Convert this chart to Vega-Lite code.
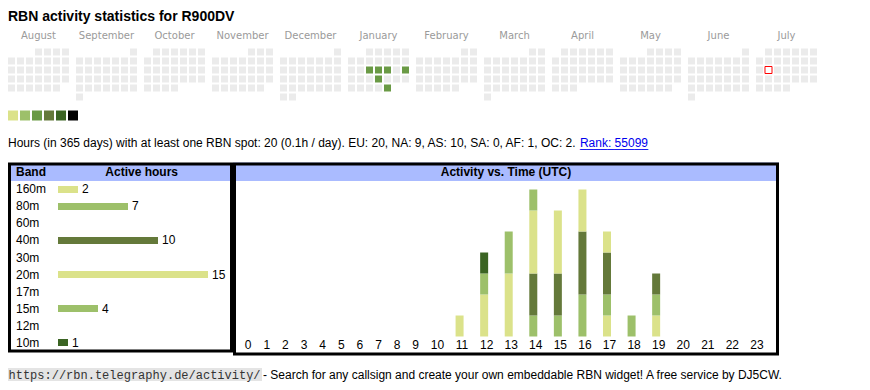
{
"$schema": "https://vega.github.io/schema/vega-lite/v6.json",
"padding": {"left": 8, "top": 9.5, "right": 0, "bottom": 0},
"config": {"view": {"stroke": null}, "font": "Liberation Sans"},
"title": {"text": "RBN activity statistics for R900DV", "anchor": "start", "fontSize": 14, "fontWeight": "bold", "font": "Liberation Sans", "color": "#000000", "offset": 6.5},
"datasets": {
"days": [
{"d":"2024-08-01","h":0},{"d":"2024-08-02","h":0},{"d":"2024-08-03","h":0},{"d":"2024-08-04","h":0},{"d":"2024-08-05","h":0},{"d":"2024-08-06","h":0},{"d":"2024-08-07","h":0},{"d":"2024-08-08","h":0},{"d":"2024-08-09","h":0},{"d":"2024-08-10","h":0},{"d":"2024-08-11","h":0},{"d":"2024-08-12","h":0},{"d":"2024-08-13","h":0},{"d":"2024-08-14","h":0},{"d":"2024-08-15","h":0},{"d":"2024-08-16","h":0},{"d":"2024-08-17","h":0},{"d":"2024-08-18","h":0},{"d":"2024-08-19","h":0},{"d":"2024-08-20","h":0},{"d":"2024-08-21","h":0},{"d":"2024-08-22","h":0},{"d":"2024-08-23","h":0},{"d":"2024-08-24","h":0},{"d":"2024-08-25","h":0},{"d":"2024-08-26","h":0},{"d":"2024-08-27","h":0},{"d":"2024-08-28","h":0},{"d":"2024-08-29","h":0},{"d":"2024-08-30","h":0},{"d":"2024-08-31","h":0},
{"d":"2024-09-01","h":0},{"d":"2024-09-02","h":0},{"d":"2024-09-03","h":0},{"d":"2024-09-04","h":0},{"d":"2024-09-05","h":0},{"d":"2024-09-06","h":0},{"d":"2024-09-07","h":0},{"d":"2024-09-08","h":0},{"d":"2024-09-09","h":0},{"d":"2024-09-10","h":0},{"d":"2024-09-11","h":0},{"d":"2024-09-12","h":0},{"d":"2024-09-13","h":0},{"d":"2024-09-14","h":0},{"d":"2024-09-15","h":0},{"d":"2024-09-16","h":0},{"d":"2024-09-17","h":0},{"d":"2024-09-18","h":0},{"d":"2024-09-19","h":0},{"d":"2024-09-20","h":0},{"d":"2024-09-21","h":0},{"d":"2024-09-22","h":0},{"d":"2024-09-23","h":0},{"d":"2024-09-24","h":0},{"d":"2024-09-25","h":0},{"d":"2024-09-26","h":0},{"d":"2024-09-27","h":0},{"d":"2024-09-28","h":0},{"d":"2024-09-29","h":0},{"d":"2024-09-30","h":0},
{"d":"2024-10-01","h":0},{"d":"2024-10-02","h":0},{"d":"2024-10-03","h":0},{"d":"2024-10-04","h":0},{"d":"2024-10-05","h":0},{"d":"2024-10-06","h":0},{"d":"2024-10-07","h":0},{"d":"2024-10-08","h":0},{"d":"2024-10-09","h":0},{"d":"2024-10-10","h":0},{"d":"2024-10-11","h":0},{"d":"2024-10-12","h":0},{"d":"2024-10-13","h":0},{"d":"2024-10-14","h":0},{"d":"2024-10-15","h":0},{"d":"2024-10-16","h":0},{"d":"2024-10-17","h":0},{"d":"2024-10-18","h":0},{"d":"2024-10-19","h":0},{"d":"2024-10-20","h":0},{"d":"2024-10-21","h":0},{"d":"2024-10-22","h":0},{"d":"2024-10-23","h":0},{"d":"2024-10-24","h":0},{"d":"2024-10-25","h":0},{"d":"2024-10-26","h":0},{"d":"2024-10-27","h":0},{"d":"2024-10-28","h":0},{"d":"2024-10-29","h":0},{"d":"2024-10-30","h":0},{"d":"2024-10-31","h":0},
{"d":"2024-11-01","h":0},{"d":"2024-11-02","h":0},{"d":"2024-11-03","h":0},{"d":"2024-11-04","h":0},{"d":"2024-11-05","h":0},{"d":"2024-11-06","h":0},{"d":"2024-11-07","h":0},{"d":"2024-11-08","h":0},{"d":"2024-11-09","h":0},{"d":"2024-11-10","h":0},{"d":"2024-11-11","h":0},{"d":"2024-11-12","h":0},{"d":"2024-11-13","h":0},{"d":"2024-11-14","h":0},{"d":"2024-11-15","h":0},{"d":"2024-11-16","h":0},{"d":"2024-11-17","h":0},{"d":"2024-11-18","h":0},{"d":"2024-11-19","h":0},{"d":"2024-11-20","h":0},{"d":"2024-11-21","h":0},{"d":"2024-11-22","h":0},{"d":"2024-11-23","h":0},{"d":"2024-11-24","h":0},{"d":"2024-11-25","h":0},{"d":"2024-11-26","h":0},{"d":"2024-11-27","h":0},{"d":"2024-11-28","h":0},{"d":"2024-11-29","h":0},{"d":"2024-11-30","h":0},
{"d":"2024-12-01","h":0},{"d":"2024-12-02","h":0},{"d":"2024-12-03","h":0},{"d":"2024-12-04","h":0},{"d":"2024-12-05","h":0},{"d":"2024-12-06","h":0},{"d":"2024-12-07","h":0},{"d":"2024-12-08","h":0},{"d":"2024-12-09","h":0},{"d":"2024-12-10","h":0},{"d":"2024-12-11","h":0},{"d":"2024-12-12","h":0},{"d":"2024-12-13","h":0},{"d":"2024-12-14","h":0},{"d":"2024-12-15","h":0},{"d":"2024-12-16","h":0},{"d":"2024-12-17","h":0},{"d":"2024-12-18","h":0},{"d":"2024-12-19","h":0},{"d":"2024-12-20","h":0},{"d":"2024-12-21","h":0},{"d":"2024-12-22","h":0},{"d":"2024-12-23","h":0},{"d":"2024-12-24","h":0},{"d":"2024-12-25","h":0},{"d":"2024-12-26","h":0},{"d":"2024-12-27","h":0},{"d":"2024-12-28","h":0},{"d":"2024-12-29","h":0},{"d":"2024-12-30","h":0},{"d":"2024-12-31","h":0},
{"d":"2025-01-01","h":0},{"d":"2025-01-02","h":0},{"d":"2025-01-03","h":0},{"d":"2025-01-04","h":0},{"d":"2025-01-05","h":0},{"d":"2025-01-06","h":0},{"d":"2025-01-07","h":0},{"d":"2025-01-08","h":0},{"d":"2025-01-09","h":0},{"d":"2025-01-10","h":0},{"d":"2025-01-11","h":0},{"d":"2025-01-12","h":0},{"d":"2025-01-13","h":0},{"d":"2025-01-14","h":0},{"d":"2025-01-15","h":4},{"d":"2025-01-16","h":4},{"d":"2025-01-17","h":3},{"d":"2025-01-18","h":0},{"d":"2025-01-19","h":3},{"d":"2025-01-20","h":0},{"d":"2025-01-21","h":0},{"d":"2025-01-22","h":0},{"d":"2025-01-23","h":3},{"d":"2025-01-24","h":0},{"d":"2025-01-25","h":0},{"d":"2025-01-26","h":0},{"d":"2025-01-27","h":0},{"d":"2025-01-28","h":0},{"d":"2025-01-29","h":0},{"d":"2025-01-30","h":0},{"d":"2025-01-31","h":3},
{"d":"2025-02-01","h":0},{"d":"2025-02-02","h":0},{"d":"2025-02-03","h":0},{"d":"2025-02-04","h":0},{"d":"2025-02-05","h":0},{"d":"2025-02-06","h":0},{"d":"2025-02-07","h":0},{"d":"2025-02-08","h":0},{"d":"2025-02-09","h":0},{"d":"2025-02-10","h":0},{"d":"2025-02-11","h":0},{"d":"2025-02-12","h":0},{"d":"2025-02-13","h":0},{"d":"2025-02-14","h":0},{"d":"2025-02-15","h":0},{"d":"2025-02-16","h":0},{"d":"2025-02-17","h":0},{"d":"2025-02-18","h":0},{"d":"2025-02-19","h":0},{"d":"2025-02-20","h":0},{"d":"2025-02-21","h":0},{"d":"2025-02-22","h":0},{"d":"2025-02-23","h":0},{"d":"2025-02-24","h":0},{"d":"2025-02-25","h":0},{"d":"2025-02-26","h":0},{"d":"2025-02-27","h":0},{"d":"2025-02-28","h":0},
{"d":"2025-03-01","h":0},{"d":"2025-03-02","h":0},{"d":"2025-03-03","h":0},{"d":"2025-03-04","h":0},{"d":"2025-03-05","h":0},{"d":"2025-03-06","h":0},{"d":"2025-03-07","h":0},{"d":"2025-03-08","h":0},{"d":"2025-03-09","h":0},{"d":"2025-03-10","h":0},{"d":"2025-03-11","h":0},{"d":"2025-03-12","h":0},{"d":"2025-03-13","h":0},{"d":"2025-03-14","h":0},{"d":"2025-03-15","h":0},{"d":"2025-03-16","h":0},{"d":"2025-03-17","h":0},{"d":"2025-03-18","h":0},{"d":"2025-03-19","h":0},{"d":"2025-03-20","h":0},{"d":"2025-03-21","h":0},{"d":"2025-03-22","h":0},{"d":"2025-03-23","h":0},{"d":"2025-03-24","h":0},{"d":"2025-03-25","h":0},{"d":"2025-03-26","h":0},{"d":"2025-03-27","h":0},{"d":"2025-03-28","h":0},{"d":"2025-03-29","h":0},{"d":"2025-03-30","h":0},{"d":"2025-03-31","h":0},
{"d":"2025-04-01","h":0},{"d":"2025-04-02","h":0},{"d":"2025-04-03","h":0},{"d":"2025-04-04","h":0},{"d":"2025-04-05","h":0},{"d":"2025-04-06","h":0},{"d":"2025-04-07","h":0},{"d":"2025-04-08","h":0},{"d":"2025-04-09","h":0},{"d":"2025-04-10","h":0},{"d":"2025-04-11","h":0},{"d":"2025-04-12","h":0},{"d":"2025-04-13","h":0},{"d":"2025-04-14","h":0},{"d":"2025-04-15","h":0},{"d":"2025-04-16","h":0},{"d":"2025-04-17","h":0},{"d":"2025-04-18","h":0},{"d":"2025-04-19","h":0},{"d":"2025-04-20","h":0},{"d":"2025-04-21","h":0},{"d":"2025-04-22","h":0},{"d":"2025-04-23","h":0},{"d":"2025-04-24","h":0},{"d":"2025-04-25","h":0},{"d":"2025-04-26","h":0},{"d":"2025-04-27","h":0},{"d":"2025-04-28","h":0},{"d":"2025-04-29","h":0},{"d":"2025-04-30","h":0},
{"d":"2025-05-01","h":0},{"d":"2025-05-02","h":0},{"d":"2025-05-03","h":0},{"d":"2025-05-04","h":0},{"d":"2025-05-05","h":0},{"d":"2025-05-06","h":0},{"d":"2025-05-07","h":0},{"d":"2025-05-08","h":0},{"d":"2025-05-09","h":0},{"d":"2025-05-10","h":0},{"d":"2025-05-11","h":0},{"d":"2025-05-12","h":0},{"d":"2025-05-13","h":0},{"d":"2025-05-14","h":0},{"d":"2025-05-15","h":0},{"d":"2025-05-16","h":0},{"d":"2025-05-17","h":0},{"d":"2025-05-18","h":0},{"d":"2025-05-19","h":0},{"d":"2025-05-20","h":0},{"d":"2025-05-21","h":0},{"d":"2025-05-22","h":0},{"d":"2025-05-23","h":0},{"d":"2025-05-24","h":0},{"d":"2025-05-25","h":0},{"d":"2025-05-26","h":0},{"d":"2025-05-27","h":0},{"d":"2025-05-28","h":0},{"d":"2025-05-29","h":0},{"d":"2025-05-30","h":0},{"d":"2025-05-31","h":0},
{"d":"2025-06-01","h":0},{"d":"2025-06-02","h":0},{"d":"2025-06-03","h":0},{"d":"2025-06-04","h":0},{"d":"2025-06-05","h":0},{"d":"2025-06-06","h":0},{"d":"2025-06-07","h":0},{"d":"2025-06-08","h":0},{"d":"2025-06-09","h":0},{"d":"2025-06-10","h":0},{"d":"2025-06-11","h":0},{"d":"2025-06-12","h":0},{"d":"2025-06-13","h":0},{"d":"2025-06-14","h":0},{"d":"2025-06-15","h":0},{"d":"2025-06-16","h":0},{"d":"2025-06-17","h":0},{"d":"2025-06-18","h":0},{"d":"2025-06-19","h":0},{"d":"2025-06-20","h":0},{"d":"2025-06-21","h":0},{"d":"2025-06-22","h":0},{"d":"2025-06-23","h":0},{"d":"2025-06-24","h":0},{"d":"2025-06-25","h":0},{"d":"2025-06-26","h":0},{"d":"2025-06-27","h":0},{"d":"2025-06-28","h":0},{"d":"2025-06-29","h":0},{"d":"2025-06-30","h":0},
{"d":"2025-07-01","h":0},{"d":"2025-07-02","h":0},{"d":"2025-07-03","h":0},{"d":"2025-07-04","h":0},{"d":"2025-07-05","h":0},{"d":"2025-07-06","h":0},{"d":"2025-07-07","h":0},{"d":"2025-07-08","h":0},{"d":"2025-07-09","h":0},{"d":"2025-07-10","h":0},{"d":"2025-07-11","h":0},{"d":"2025-07-12","h":0},{"d":"2025-07-13","h":0},{"d":"2025-07-14","h":0},{"d":"2025-07-15","h":0,"t":1},{"d":"2025-07-16","h":0},{"d":"2025-07-17","h":0},{"d":"2025-07-18","h":0},{"d":"2025-07-19","h":0},{"d":"2025-07-20","h":0},{"d":"2025-07-21","h":0},{"d":"2025-07-22","h":0},{"d":"2025-07-23","h":0},{"d":"2025-07-24","h":0},{"d":"2025-07-25","h":0},{"d":"2025-07-26","h":0},{"d":"2025-07-27","h":0},{"d":"2025-07-28","h":0},{"d":"2025-07-29","h":0},{"d":"2025-07-30","h":0},{"d":"2025-07-31","h":0}
],
"bands": [
{"band":"160m","n":2},{"band":"80m","n":7},{"band":"60m","n":0},{"band":"40m","n":10},{"band":"30m","n":0},{"band":"20m","n":15},{"band":"17m","n":0},{"band":"15m","n":4},{"band":"12m","n":0},{"band":"10m","n":1}
],
"spots": [
{"hour":11,"band":"20m","n":1},
{"hour":12,"band":"20m","n":2},{"hour":12,"band":"15m","n":1},{"hour":12,"band":"10m","n":1},
{"hour":13,"band":"20m","n":3},{"hour":13,"band":"15m","n":2},
{"hour":14,"band":"80m","n":1},{"hour":14,"band":"40m","n":2},{"hour":14,"band":"20m","n":3},{"hour":14,"band":"15m","n":1},
{"hour":15,"band":"80m","n":1},{"hour":15,"band":"40m","n":2},{"hour":15,"band":"20m","n":3},
{"hour":16,"band":"80m","n":2},{"hour":16,"band":"40m","n":3},{"hour":16,"band":"20m","n":2},
{"hour":17,"band":"160m","n":1},{"hour":17,"band":"80m","n":1},{"hour":17,"band":"40m","n":2},{"hour":17,"band":"20m","n":1},
{"hour":18,"band":"80m","n":1},
{"hour":19,"band":"160m","n":1},{"hour":19,"band":"80m","n":1},{"hour":19,"band":"40m","n":1}
],
"hours": [
{"hour":0},{"hour":1},{"hour":2},{"hour":3},{"hour":4},{"hour":5},{"hour":6},{"hour":7},{"hour":8},{"hour":9},{"hour":10},{"hour":11},{"hour":12},{"hour":13},{"hour":14},{"hour":15},{"hour":16},{"hour":17},{"hour":18},{"hour":19},{"hour":20},{"hour":21},{"hour":22},{"hour":23}
]
},
"resolve": {"scale": {"color": "independent"}},
"spacing": 10,
"vconcat": [
{
"data": {"name": "days"},
"transform": [
{"calculate": "(utcday(toDate(datum.d)) + 6) % 7", "as": "wd"},
{"calculate": "floor((utcdate(toDate(datum.d)) - 1 + (utcday(utc(utcyear(toDate(datum.d)), utcmonth(toDate(datum.d)), 1)) + 6) % 7) / 7)", "as": "wk"}
],
"facet": {"column": {"field": "d", "timeUnit": "utcyearmonth", "type": "ordinal", "title": null, "header": {"format": "%B", "labelFont": "DejaVu Sans", "labelFontSize": 10, "labelColor": "#9a9a9a", "labelPadding": 8}}},
"spacing": 7,
"spec": {
"width": 61, "height": 52,
"layer": [
{"mark": {"type": "rect"},
"encoding": {
"x": {"field": "wd", "type": "ordinal", "scale": {"domain": [0,1,2,3,4,5,6], "paddingInner": 0.2222, "paddingOuter": 0}, "axis": null},
"y": {"field": "wk", "type": "ordinal", "scale": {"domain": [0,1,2,3,4,5], "paddingInner": 0.2222, "paddingOuter": 0}, "axis": null},
"color": {"field": "h", "type": "quantitative", "scale": {"type": "threshold", "domain": [1,2,3,5,7,10], "range": ["#ebebeb","#dbe28a","#9dc06a","#6a9a45","#64793a","#3b6423","#000000"]}, "legend": null}
}},
{"transform": [{"filter": "datum.t == 1"}],
"mark": {"type": "rect", "fill": "#ffffff", "stroke": "#ff0000", "strokeWidth": 1},
"encoding": {
"x": {"field": "wd", "type": "ordinal", "axis": null},
"y": {"field": "wk", "type": "ordinal", "axis": null}
}}
]
}
},
{
"data": {"values": [{"h": 1}, {"h": 2}, {"h": 3}, {"h": 5}, {"h": 7}, {"h": 10}]},
"width": 70, "height": 10,
"mark": {"type": "rect"},
"encoding": {
"x": {"field": "h", "type": "ordinal", "scale": {"paddingInner": 0.1667, "paddingOuter": 0}, "axis": null},
"color": {"field": "h", "type": "quantitative", "scale": {"type": "threshold", "domain": [1,2,3,5,7,10], "range": ["#ebebeb","#dbe28a","#9dc06a","#6a9a45","#64793a","#3b6423","#000000"]}, "legend": null}
}
},
{
"data": {"values": [{"s": "Hours (in 365 days) with at least one RBN spot: 20 (0.1h / day). EU: 20, NA: 9, AS: 10, SA: 0, AF: 1, OC: 2.", "r": "Rank: 55099", "u": "__________"}]},
"width": 640, "height": 22,
"layer": [
{"mark": {"type": "text", "align": "left", "baseline": "alphabetic", "fontSize": 12, "dy": 5, "color": "#000000"}, "encoding": {"x": {"value": 0}, "text": {"field": "s"}}},
{"mark": {"type": "text", "align": "right", "baseline": "alphabetic", "fontSize": 12, "dy": 5, "color": "#0000ee"}, "encoding": {"x": {"value": "width"}, "text": {"field": "r"}}},
{"mark": {"type": "text", "align": "right", "baseline": "alphabetic", "fontSize": 12.24, "dy": 5, "color": "#0000ee"}, "encoding": {"x": {"value": "width"}, "text": {"field": "u"}}}
]
},
{
"spacing": 12.5,
"resolve": {"scale": {"color": "independent"}},
"vconcat": [
{
"spacing": 0,
"hconcat": [
{
"width": 225, "height": 190,
"data": {"name": "bands"},
"layer": [
{"data": {"values": [{"band": "hdr"}]},
"mark": {"type": "rect", "color": "#aabbff"},
"encoding": {"y": {"field": "band", "type": "nominal", "scale": {"domain": ["hdr","160m","80m","60m","40m","30m","20m","17m","15m","12m","10m"], "paddingInner": 0, "paddingOuter": 0.0882}, "axis": null}}},
{"data": {"values": [{"band": "hdr", "t": "Band"}]},
"mark": {"type": "text", "align": "left", "fontWeight": "bold", "fontSize": 12, "color": "#000000"},
"encoding": {"y": {"field": "band", "type": "nominal"}, "x": {"datum": -4.2, "type": "quantitative", "scale": {"domain": [-5, 17.5], "nice": false, "zero": false}, "axis": null}, "text": {"field": "t"}}},
{"data": {"values": [{"band": "hdr", "t": "Active hours"}]},
"mark": {"type": "text", "align": "center", "fontWeight": "bold", "fontSize": 12, "color": "#000000"},
"encoding": {"y": {"field": "band", "type": "nominal"}, "x": {"datum": 8.37, "type": "quantitative"}, "text": {"field": "t"}}},
{"mark": {"type": "text", "align": "left", "fontSize": 12, "color": "#000000"},
"encoding": {"y": {"field": "band", "type": "nominal"}, "x": {"datum": -4.2, "type": "quantitative"}, "text": {"field": "band"}}},
{"transform": [{"filter": "datum.n > 0"}],
"mark": {"type": "bar", "size": 7},
"encoding": {"y": {"field": "band", "type": "nominal"}, "x": {"field": "n", "type": "quantitative"},
"color": {"field": "band", "type": "nominal", "scale": {"domain": ["160m","80m","60m","40m","30m","20m","17m","15m","12m","10m"], "range": ["#dbe28a","#9dc06a","#8fbc5a","#64793a","#4a7a30","#dbe28a","#9dc06a","#9dc06a","#6a9a45","#3b6423"]}, "legend": null}}},
{"transform": [{"filter": "datum.n > 0"}],
"mark": {"type": "text", "align": "left", "dx": 4, "fontSize": 12, "color": "#000000"},
"encoding": {"y": {"field": "band", "type": "nominal"}, "x": {"field": "n", "type": "quantitative"}, "text": {"field": "n"}}},
{"data": {"values": [{"frame": "left"}]},
"mark": {"type": "rect", "fill": null, "stroke": "#000000", "strokeWidth": 6, "clip": true},
"encoding": {}}
]
},
{
"width": 546, "height": 193,
"layer": [
{"data": {"values": [{"t": "Activity vs. Time (UTC)"}]},
"mark": {"type": "rect", "color": "#aabbff"},
"encoding": {"y": {"datum": 7.405, "type": "quantitative", "scale": {"domain": [-0.9048, 8.2857], "nice": false, "zero": false}, "axis": null}, "y2": {"datum": 8.2857}}},
{"data": {"values": [{"t": "Activity vs. Time (UTC)"}]},
"mark": {"type": "text", "align": "center", "fontWeight": "bold", "fontSize": 12, "color": "#000000"},
"encoding": {"y": {"datum": 7.81, "type": "quantitative"}, "text": {"field": "t"}}},
{"data": {"name": "spots"},
"transform": [{"calculate": "indexof(['160m','80m','60m','40m','30m','20m','17m','15m','12m','10m'], datum.band)", "as": "bi"}],
"mark": {"type": "bar", "size": 8},
"encoding": {
"x": {"field": "hour", "type": "quantitative", "scale": {"domain": [0, 9, 10, 23], "range": [8.5, 180.2, 202, 527], "nice": false, "zero": false}, "axis": null},
"y": {"field": "n", "type": "quantitative", "stack": "zero"},
"order": {"field": "bi", "type": "quantitative", "sort": "ascending"},
"color": {"field": "band", "type": "nominal", "scale": {"domain": ["160m","80m","60m","40m","30m","20m","17m","15m","12m","10m"], "range": ["#dbe28a","#9dc06a","#8fbc5a","#64793a","#4a7a30","#dbe28a","#9dc06a","#9dc06a","#6a9a45","#3b6423"]}, "legend": null}
}},
{"data": {"name": "hours"},
"mark": {"type": "text", "align": "center", "dx": 2.5, "fontSize": 12, "color": "#000000"},
"encoding": {"x": {"field": "hour", "type": "quantitative"}, "y": {"datum": -0.414, "type": "quantitative"}, "text": {"field": "hour"}}},
{"data": {"values": [{"frame": "right"}]},
"mark": {"type": "rect", "fill": null, "stroke": "#000000", "strokeWidth": 6, "clip": true},
"encoding": {}}
]
}
]
},
{
"spacing": 1,
"hconcat": [
{"data": {"values": [{"u": "https://rbn.telegraphy.de/activity/"}]},
"width": 254, "height": 13,
"view": {"fill": "#e4e4e4", "stroke": null},
"mark": {"type": "text", "align": "left", "font": "Liberation Mono", "fontSize": 12, "dx": 0.5, "color": "#333333"},
"encoding": {"x": {"value": 0}, "text": {"field": "u"}}},
{"data": {"values": [{"s": "- Search for any callsign and create your own embeddable RBN widget! A free service by DJ5CW."}]},
"width": 525, "height": 13,
"mark": {"type": "text", "align": "left", "fontSize": 12, "color": "#000000"},
"encoding": {"x": {"value": 0}, "text": {"field": "s"}}}
]
}
]
}
]
}
